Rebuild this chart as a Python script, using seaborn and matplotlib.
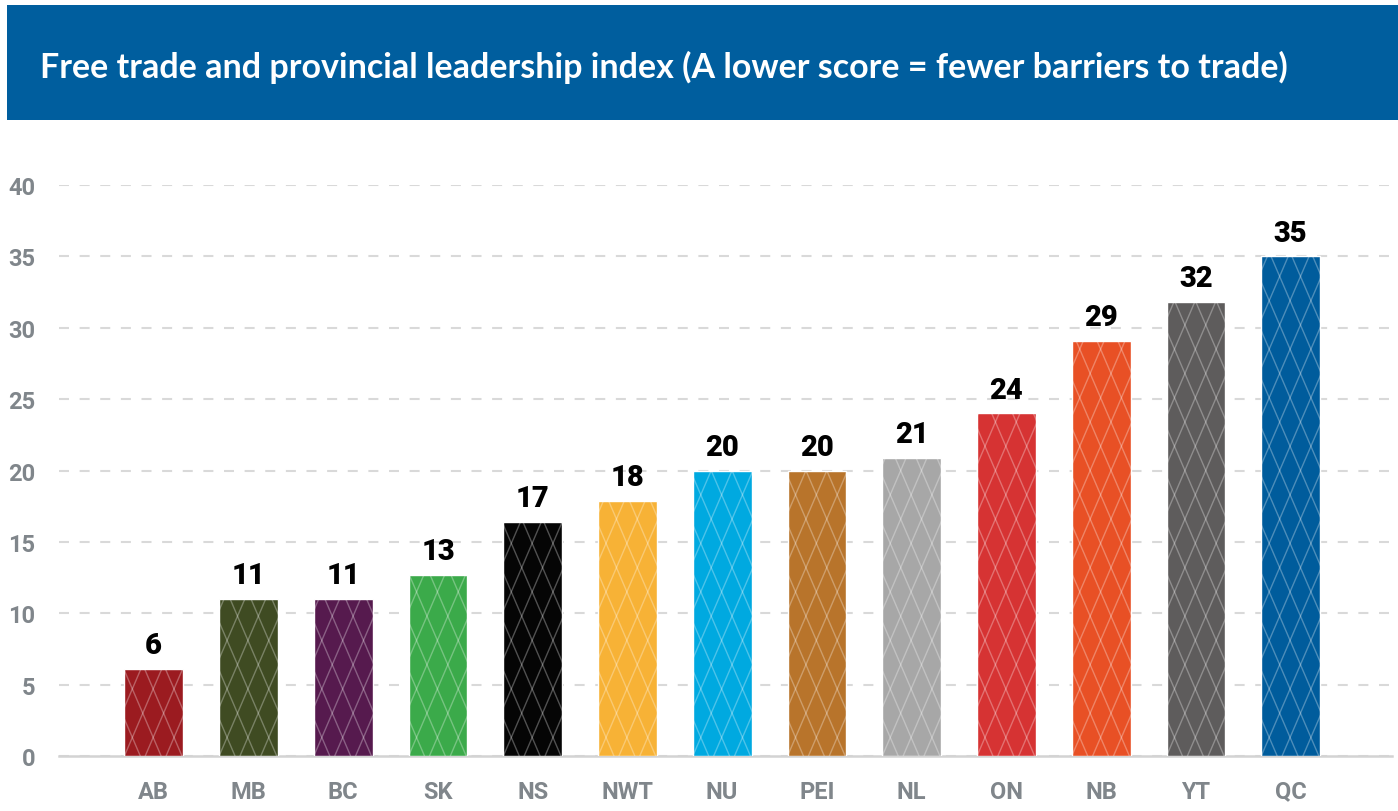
import seaborn as sns
import matplotlib.pyplot as plt
import pandas as pd
import numpy as np
from matplotlib.patches import Rectangle
from matplotlib.collections import LineCollection

# Data
regions = ['AB', 'MB', 'BC', 'SK', 'NS', 'NWT', 'NU', 'PEI', 'NL', 'ON', 'NB', 'YT', 'QC']
scores = [6.1, 11.0, 11.0, 12.7, 16.4, 17.9, 20.0, 20.0, 20.9, 24.0, 29.1, 31.8, 35.0]
score_labels = ['6', '11', '11', '13', '17', '18', '20', '20', '21', '24', '29', '32', '35']
bar_colors = ['#9B1B20', '#3F4B22', '#561A4E', '#3BAA4A', '#050505', '#F7B236', '#00A9E0',
              '#B8742B', '#A7A7A7', '#D63333', '#E85025', '#5E5C5C', '#005C9C']
y_ticks = [0, 5, 10, 15, 20, 25, 30, 35, 40]

title = 'Free trade and provincial leadership index (A lower score = fewer barriers to trade)'

data = pd.DataFrame({'Region': regions, 'Score': scores})

sns.set_style("white")
plt.rcParams['font.family'] = ['Roboto', 'DejaVu Sans']

fig = plt.figure(figsize=(13.98, 8.12), dpi=100)
ax = fig.add_axes([0.0422, 0.0677, 0.9535, 0.7032])

sns.barplot(data=data, x='Region', y='Score', hue='Region',
            palette=dict(zip(regions, bar_colors)), width=0.62,
            saturation=1, legend=False, ax=ax, zorder=3)

# diamond lattice overlay, clipped to each bar
dw, dh = 0.22, 3.4
slope = dh / dw
for patch in ax.patches:
    x0 = patch.get_x()
    segs = []
    for k in range(-60, 10):
        xs = x0 + k * dw
        segs.append([(xs, 0), (xs + 40 / slope, 40)])
        segs.append([(xs + 40 / slope + 3 * dw, 0), (xs + 3 * dw, 40)])
    lc = LineCollection(segs, colors='white', alpha=0.3, linewidths=1.0, zorder=4)
    ax.add_collection(lc)
    lc.set_clip_path(patch)

# value labels
for patch, lab in zip(ax.patches, score_labels):
    ax.annotate(lab, (patch.get_x() + patch.get_width() / 2, patch.get_height()),
                xytext=(0, 7), textcoords='offset points', ha='center', va='bottom',
                fontsize=21, fontweight='black', color='black')

ax.set_ylim(0, 40)
ax.set_xlim(-1.0, 13.07)
ax.set_yticks(y_ticks)
ax.set_xlabel('')
ax.set_ylabel('')
ax.tick_params(axis='both', length=0, labelsize=17, labelcolor='#80868B')
ax.tick_params(axis='y', pad=17)
ax.tick_params(axis='x', pad=17)
for lab in ax.get_xticklabels() + ax.get_yticklabels():
    lab.set_fontweight('bold')

ax.yaxis.grid(True, color='#D9D9D9', linewidth=1.5, linestyle=(0, (4.8, 5.1)), zorder=0)
ax.set_axisbelow(True)
for s in ['top', 'right', 'left']:
    ax.spines[s].set_visible(False)
ax.spines['bottom'].set_color('#D3D3D3')
ax.spines['bottom'].set_linewidth(1.8)
ax.spines['bottom'].set_zorder(2)

# title banner
fig.patches.append(Rectangle((0.005, 0.851), 0.995, 0.1416, transform=fig.transFigure,
                             facecolor='#005E9E', edgecolor='none', zorder=0))
fig.text(0.0286, 0.9175, title, color='white', fontsize=24.5, fontweight='bold',
         family=['Lato', 'DejaVu Sans'], ha='left', va='center')

plt.savefig('out.png', dpi=100)
